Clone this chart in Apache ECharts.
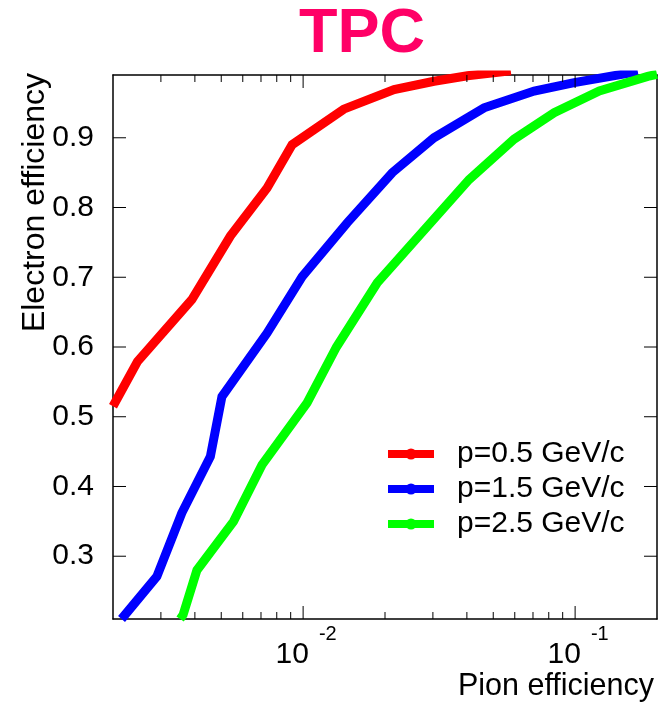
<!DOCTYPE html>
<html>
<head>
<meta charset="utf-8">
<script src="https://cdn.jsdelivr.net/npm/echarts@6/dist/echarts.min.js"></script>
<style>
html,body{margin:0;padding:0;background:#fff;}
#chart{width:660px;height:704px;}
</style>
</head>
<body>
<div id="chart"></div>
<script>
// ---- data ----
const seriesNames = ['p=0.5 GeV/c', 'p=1.5 GeV/c', 'p=2.5 GeV/c'];
const redX   = [0.002, 0.00246, 0.0039, 0.0054, 0.00737, 0.00911, 0.0141, 0.0216, 0.0303, 0.0402, 0.058];
const redY   = [0.515, 0.579, 0.668, 0.759, 0.828, 0.890, 0.941, 0.969, 0.981, 0.989, 0.996];
const blueX  = [0.00215, 0.0029, 0.00358, 0.00456, 0.00503, 0.00737, 0.00992, 0.01452, 0.02127, 0.03027, 0.04627, 0.07071, 0.09924, 0.17];
const blueY  = [0.21, 0.271, 0.362, 0.443, 0.529, 0.620, 0.701, 0.778, 0.850, 0.900, 0.943, 0.967, 0.979, 0.995];
const greenX = [0.00353, 0.00362, 0.00407, 0.00555, 0.00706, 0.01034, 0.01326, 0.01873, 0.04074, 0.05966, 0.08375, 0.1227, 0.1849, 0.2];
const greenY = [0.21, 0.216, 0.280, 0.350, 0.431, 0.520, 0.600, 0.692, 0.840, 0.898, 0.936, 0.967, 0.988, 0.991];
const xMin = 0.002, xMax = 0.2;
const yMin = 0.21, yMax = 0.99;
const yTicks = [0.3, 0.4, 0.5, 0.6, 0.7, 0.8, 0.9];
const xMajorTicks = [0.01, 0.1];
const xMinorTicks = [0.003, 0.004, 0.005, 0.006, 0.007, 0.008, 0.009,
                     0.02, 0.03, 0.04, 0.05, 0.06, 0.07, 0.08, 0.09];

const colors = ['#ff0000', '#0000ff', '#00ff00'];
const FONT = 'Liberation Sans';

const zip = (xs, ys) => xs.map((x, i) => [x, ys[i]]);
const seriesData = [zip(redX, redY), zip(blueX, blueY), zip(greenX, greenY)];

const chart = echarts.init(document.getElementById('chart'), null, {renderer: 'canvas'});

const frameLine = {show: true, lineStyle: {color: '#000', width: 1.5}};

const lineSeries = seriesNames.map((name, i) => ({
  name: name,
  type: 'line',
  data: seriesData[i],
  symbol: 'circle', showSymbol: false, symbolSize: 10,
  clip: true,
  itemStyle: {color: colors[i]},
  lineStyle: {color: colors[i], width: 9, join: 'miter', cap: 'butt'}
}));

const option = {
  animation: false,
  backgroundColor: '#fff',
  textStyle: {fontFamily: FONT},
  title: {
    text: 'TPC',
    left: 299, top: 3, padding: 0,
    textStyle: {fontFamily: FONT, fontSize: 63, fontWeight: 'bold', color: '#ff0066'}
  },
  grid: {left: 113, top: 75, width: 544, height: 544, containLabel: false, outerBoundsMode: 'none'},
  legend: {
    orient: 'vertical', left: 384, top: 439, padding: 0,
    itemWidth: 46, itemHeight: 14, itemGap: 5,
    textStyle: {fontFamily: FONT, fontSize: 30, lineHeight: 30, color: '#000', padding: [0, 0, 0, 18]},
    lineStyle: {width: 8},
    data: seriesNames
  },
  xAxis: [
    { // data axis (log), bottom
      type: 'log', logBase: 10, min: xMin, max: xMax, position: 'bottom',
      axisLine: frameLine,
      axisTick: {show: false},
      splitLine: {show: false},
      axisLabel: {
        show: true, margin: 5, showMinLabel: false, showMaxLabel: false,
        formatter: v => '{a|10}{b|' + Math.round(Math.log10(v)) + '}',
        rich: {
          a: {fontFamily: FONT, fontSize: 30, lineHeight: 46, verticalAlign: 'bottom', color: '#000', padding: [0, 0, 0, 6]},
          b: {fontFamily: FONT, fontSize: 20, lineHeight: 24, verticalAlign: 'top', color: '#000', padding: [0, 0, 0, 10]}
        }
      },
      name: 'Pion efficiency', nameLocation: 'end', nameGap: -3, nameMoveOverlap: false,
      nameTextStyle: {fontFamily: FONT, fontSize: 30.5, lineHeight: 30, color: '#000',
                      align: 'right', verticalAlign: 'top', padding: [53, 0, 0, 0]}
    },
    { // top frame
      type: 'log', logBase: 10, min: xMin, max: xMax, position: 'top',
      axisLine: frameLine, axisTick: {show: false}, axisLabel: {show: false}, splitLine: {show: false}
    }
  ],
  yAxis: [
    {
      type: 'value', min: yMin, max: yMax, position: 'left',
      axisLine: frameLine,
      axisTick: {show: false},
      splitLine: {show: false},
      axisLabel: {show: true, margin: 19, customValues: yTicks,
                  formatter: v => v.toFixed(1),
                  fontFamily: FONT, fontSize: 30, color: '#000'},
      name: 'Electron efficiency', nameLocation: 'end', nameGap: 2, nameRotate: 90, nameMoveOverlap: false,
      nameTextStyle: {fontFamily: FONT, fontSize: 32, lineHeight: 30, color: '#000',
                      align: 'right', verticalAlign: 'bottom', padding: [0, 0, 63, 0]}
    },
    { // right frame
      type: 'value', min: yMin, max: yMax, position: 'right',
      axisLine: frameLine, axisTick: {show: false}, splitLine: {show: false}, axisLabel: {show: false}
    }
  ],
  series: lineSeries
};

chart.setOption(option);

// Tick marks: positions come from the chart's own axis scales (convertToPixel).
try {
  const finder = {xAxisIndex: 0, yAxisIndex: 0};
  const px = p => chart.convertToPixel(finder, p);
  const tickEls = [];
  const addLine = (x1, y1, x2, y2) => tickEls.push({
    type: 'line', silent: true, z: 50,
    shape: {x1: x1, y1: y1, x2: x2, y2: y2},
    style: {stroke: '#000', lineWidth: 1}
  });
  const addX = (v, len) => {
    const b = px([v, yMin]), t = px([v, yMax]);
    addLine(b[0], b[1], b[0], b[1] - len);
    addLine(t[0], t[1], t[0], t[1] + len);
  };
  xMajorTicks.forEach(v => addX(v, 13));
  xMinorTicks.forEach(v => addX(v, 7));
  yTicks.forEach(v => {
    const l = px([xMin, v]), r = px([xMax, v]);
    addLine(l[0], l[1], l[0] + 13, l[1]);
    addLine(r[0], r[1], r[0] - 13, r[1]);
  });
  chart.setOption({graphic: {elements: tickEls}});
} catch (e) { /* keep chart as is */ }
</script>
</body>
</html>
